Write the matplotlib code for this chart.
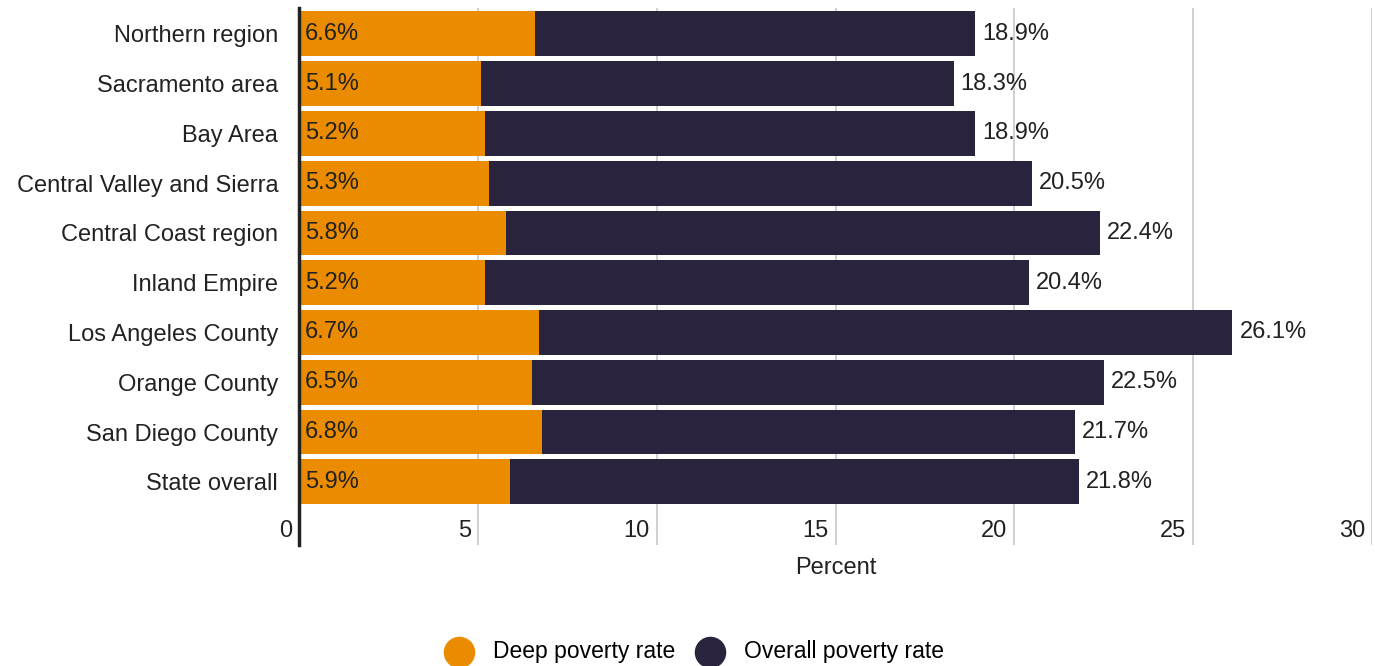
import numpy as np
import matplotlib.pyplot as plt

regions = ["Northern region", "Sacramento area", "Bay Area", "Central Valley and Sierra",
           "Central Coast region", "Inland Empire", "Los Angeles County", "Orange County",
           "San Diego County", "State overall"]
deep = [6.6, 5.1, 5.2, 5.3, 5.8, 5.2, 6.7, 6.5, 6.8, 5.9]
overall = [18.9, 18.3, 18.9, 20.5, 22.4, 20.4, 26.1, 22.5, 21.7, 21.8]
xticks = [0, 5, 10, 15, 20, 25, 30]

orange = "#EB8B00"
navy = "#29233E"
txt = "#222222"
fs = 17

plt.rcParams['font.family'] = ['Liberation Sans', 'DejaVu Sans']

fig = plt.figure(figsize=(13.75, 6.66), dpi=100)
ax = fig.add_axes([0.2175, 0.1817, 0.7803, 0.8063])

y = np.arange(len(regions))
ax.barh(y, overall, height=0.9, color=navy, zorder=2)
ax.barh(y, deep, height=0.9, color=orange, zorder=3)

for i in range(len(regions)):
    ax.annotate(f"{deep[i]}%", (0, y[i]), xytext=(4, 0), textcoords="offset points",
                ha="left", va="center", fontsize=fs, color=txt, zorder=4)
    ax.annotate(f"{overall[i]}%", (overall[i], y[i]), xytext=(5, 0), textcoords="offset points",
                ha="left", va="center", fontsize=fs, color=txt, zorder=4)

ax.set_xlim(0, 30)
ax.set_ylim(len(regions) - 1 + 1.27, -0.52)
ax.set_yticks(y)
ax.set_yticklabels(regions, fontsize=fs, color=txt)
ax.tick_params(axis="y", length=0, pad=15)

# vertical gridlines, tick labels sit inside the plot left of each line
ax.set_xticks(xticks)
ax.set_xticklabels([])
ax.tick_params(axis="x", length=0)
ax.grid(axis="x", color="#CFCFCF", linewidth=1.4, zorder=0)
for t in xticks:
    ax.annotate(str(t), (t, len(regions) - 1 + 0.98), xytext=(-5, 0), textcoords="offset points",
                ha="right", va="center", fontsize=fs, color=txt)

ax.set_xlabel("Percent", fontsize=fs, color=txt, labelpad=5)

for s in ["top", "right", "bottom"]:
    ax.spines[s].set_visible(False)
ax.spines["left"].set_color(txt)
ax.spines["left"].set_linewidth(2.5)
ax.spines["left"].set_zorder(5)

h1 = ax.scatter([], [], s=470, color=orange, label="Deep poverty rate")
h2 = ax.scatter([], [], s=470, color=navy, label="Overall poverty rate")
fig.legend(handles=[h1, h2], loc="center", bbox_to_anchor=(0.502, 0.022), ncol=2,
           frameon=False, fontsize=16.5, handletextpad=0.5, columnspacing=0.5)

fig.savefig("out.png", dpi=100)
